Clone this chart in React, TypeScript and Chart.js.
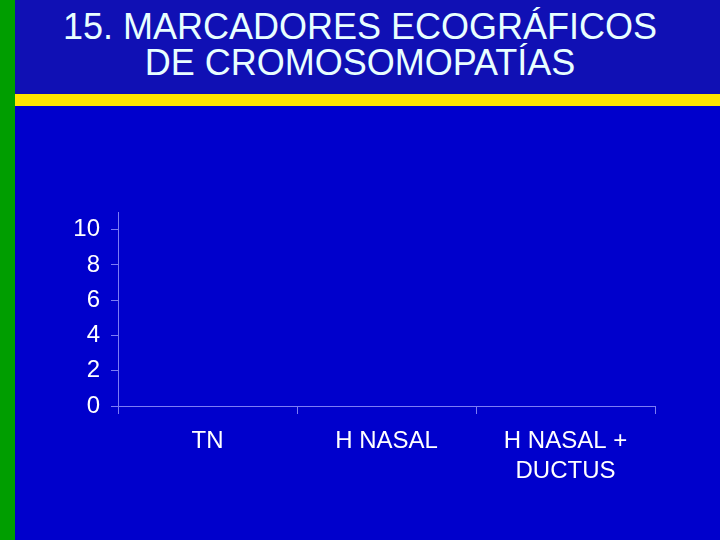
import React, { useEffect, useRef } from "react";
import { Chart, registerables } from "chart.js";

Chart.register(...registerables);

const titleLines = ["15. MARCADORES ECOGRÁFICOS", "DE CROMOSOMOPATÍAS"];
const categories: (string | string[])[] = ["TN", "H NASAL", ["H NASAL +", "DUCTUS"]];
const seriesValues = [0, 0, 0];
const yTicks = [0, 2, 4, 6, 8, 10];
const yMax = 11;

const AXIS_COLOR = "#7C7CF4";
const FONT = "'Liberation Sans', Arial, sans-serif";

export default function App() {
  const canvasRef = useRef<HTMLCanvasElement | null>(null);

  useEffect(() => {
    if (!canvasRef.current) return;
    const chart = new Chart(canvasRef.current, {
      type: "bar",
      data: {
        labels: categories,
        datasets: [
          {
            data: seriesValues,
            backgroundColor: "#9999FF",
            borderWidth: 0,
            barPercentage: 0.75,
            categoryPercentage: 1,
          },
        ],
      },
      options: {
        animation: false,
        responsive: false,
        devicePixelRatio: 1,
        layout: { padding: { top: 212, right: 65, bottom: 0, left: 0 } },
        plugins: {
          legend: { display: false },
          tooltip: { enabled: false },
          title: { display: false },
        },
        scales: {
          x: {
            grid: {
              offset: true,
              drawOnChartArea: false,
              drawTicks: true,
              tickLength: 8,
              color: AXIS_COLOR,
            },
            border: { display: true, color: AXIS_COLOR, width: 1 },
            ticks: {
              color: "#FFFFFF",
              padding: 12,
              font: { family: FONT, size: 24, lineHeight: 1.25 },
              maxRotation: 0,
              autoSkip: false,
            },
            afterFit: (scale: any) => {
              scale.height = 134;
            },
          },
          y: {
            min: 0,
            max: yMax,
            grid: {
              drawOnChartArea: false,
              drawTicks: true,
              tickLength: 7,
              color: AXIS_COLOR,
            },
            border: { display: true, color: AXIS_COLOR, width: 1 },
            ticks: {
              color: "#FFFFFF",
              padding: 11,
              font: { family: FONT, size: 24 },
            },
            afterBuildTicks: (scale: any) => {
              scale.ticks = yTicks.map((v) => ({ value: v }));
            },
            afterFit: (scale: any) => {
              scale.width = 118;
            },
          },
        },
      },
    });
    return () => chart.destroy();
  }, []);

  return (
    <div
      style={{
        position: "fixed",
        left: 0,
        top: 0,
        width: 720,
        height: 540,
        background: "#0000CC",
        overflow: "hidden",
      }}
    >
      <div style={{ position: "absolute", left: 0, top: 0, width: 720, height: 94, background: "#1010B4" }} />
      <div style={{ position: "absolute", left: 0, top: 94, width: 720, height: 12, background: "#FFE500" }} />
      <div style={{ position: "absolute", left: 0, top: 0, width: 15, height: 540, background: "#009E00" }} />
      <div
        style={{
          position: "absolute",
          left: 0,
          top: 9,
          width: 720,
          textAlign: "center",
          fontFamily: FONT,
          fontSize: 36,
          lineHeight: "36px",
          color: "#E8FFFF",
          whiteSpace: "nowrap",
        }}
      >
        {titleLines.map((l, i) => (
          <div key={i}>{l}</div>
        ))}
      </div>
      <canvas
        ref={canvasRef}
        width={720}
        height={540}
        style={{ position: "absolute", left: 0, top: 0, width: 720, height: 540 }}
      />
    </div>
  );
}
